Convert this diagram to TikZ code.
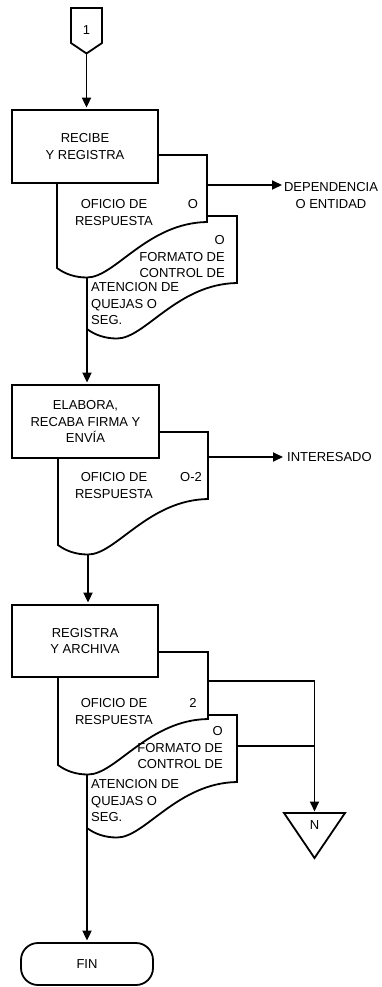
\documentclass[tikz,border=0pt]{standalone}
\usepackage{fontspec}
\setmainfont{Liberation Sans}
\usetikzlibrary{arrows.meta}
\tikzset{
  ln/.style={line width=1.8pt, line join=miter},
  arr/.style={ln, -{Triangle[length=10pt,width=9pt]}, shorten >=1.5pt},
  proc/.style={draw, ln, fill=white, minimum width=146pt, minimum height=73pt, align=center},
  docu/.pic={
    \draw[ln, fill=white] (0,0) -- (150,0) -- (150,67)
      .. controls (90,68) and (58,122.5) .. (30,122.5)
      .. controls (18,122.5) and (8,119) .. (0,113) -- cycle;
    \coordinate (-tr) at (150,0);
    \coordinate (-bl) at (0,113);
    \coordinate (-dip) at (30,122.5);
  }
}
\begin{document}
\begin{tikzpicture}[x=1pt,y=-1pt,
  every node/.style={font=\fontsize{13}{16.5}\selectfont, inner sep=0pt}]
\useasboundingbox (0,0) rectangle (382,987);

% off-page connector
\draw[ln] (71,8) -- (102,8) -- (102,43) -- (86.5,53.5) -- (71,43) -- cycle;
\coordinate (c1) at (86.5,53.5);
\node (one) at (86.5,30) {1};

% group 1
\pic (d2) at (87,216) {docu};
\pic (d1) at (57,155) {docu};
\node (b1) [proc] at (85,146.5) {RECIBE\\Y REGISTRA};
\node (t1a) [align=center, anchor=north] at (114,199.3) {OFICIO DE\\RESPUESTA};
\node (t1b) at (193,204) {O};
\node (t2a) [align=right, anchor=north east] at (225,235.3) {O\\FORMATO DE\\CONTROL DE};
\node (t2b) [align=left, anchor=north west] at (91,282.3) {ATENCION DE\\QUEJAS O\\SEG.};

% group 2
\pic (d3) at (58,432) {docu};
\node (b2) [proc, minimum width=147pt] at (85.5,421.5) {ELABORA,\\RECABA FIRMA Y\\ENVÍA};
\node (t3a) [align=center, anchor=north] at (114,472.3) {OFICIO DE\\RESPUESTA};
\node (t3b) at (191,477) {O-2};

% group 3
\pic (d5) at (87,715) {docu};
\pic (d4) at (58,652) {docu};
\node (b3) [proc, minimum height=72pt] at (85,641) {REGISTRA\\Y ARCHIVA};
\node (t4a) [align=center, anchor=north] at (114,698.3) {OFICIO DE\\RESPUESTA};
\node (t4b) at (193,703) {2};
\node (t5a) [align=right, anchor=north east] at (223,726.3) {O\\FORMATO DE\\CONTROL DE};
\node (t5b) [align=left, anchor=north west] at (91,779.3) {ATENCION DE\\QUEJAS O\\SEG.};

% off-page triangle
\draw[ln] (284,813) -- (345,813) -- (314.5,858) -- cycle;
\coordinate (tri) at (314.5,813);
\node (nn) at (314.5,825) {N};

% terminator
\node (fin) [draw, ln, rounded corners=17pt, minimum width=132pt, minimum height=42pt] at (87,964) {FIN};

% outputs
\coordinate (e1) at (282,185);
\node (dep) [align=center, anchor=north] at (331,182.3) {DEPENDENCIA\\O ENTIDAD};
\coordinate (e2) at (283,457);
\node (int) [anchor=west] at (287,457) {INTERESADO};
\coordinate (j1) at (314.5,681);
\coordinate (j2) at (314.5,746);

% connectors
\draw[arr] (c1) -- (b1.north -| c1);
\draw[arr, shorten >=0pt] (d1-tr |- e1) -- (e1);
\draw[arr] (d2-bl) -- (b2.north -| d2-bl);
\draw[arr, shorten >=0pt] (d3-tr |- e2) -- (e2);
\draw[arr] (d3-dip) -- (b3.north -| d3-dip);
\draw[arr] (d4-tr |- j1) -- (j1) -- (tri);
\draw[ln] (d5-tr |- j2) -- (j2);
\draw[arr] (d5-bl) -- (fin.north -| d5-bl);
\end{tikzpicture}
\end{document}
